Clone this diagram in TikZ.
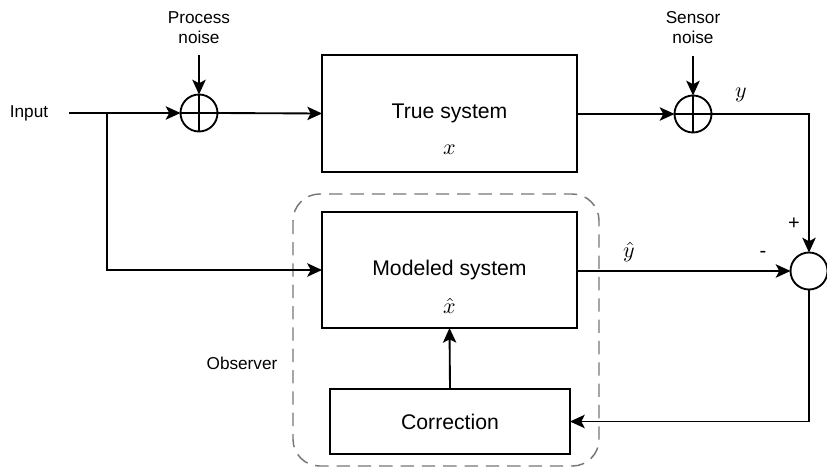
\RequirePackage{fix-cm}
\documentclass[tikz,border=0pt]{standalone}
\usepackage{fontspec}
\setmainfont{Liberation Sans}
\usetikzlibrary{arrows.meta}
\definecolor{dashgray}{HTML}{777777}
\newcommand{\mlab}[1]{\scalebox{1.65}{$#1$}}
\begin{document}
\begin{tikzpicture}[x=0.75pt,y=-0.75pt,
  line width=1.4pt,
  arr/.style={-{Stealth[length=11pt,width=10pt,inset=2.5pt]}},
  blk/.style={draw,rectangle,inner sep=0pt,outer sep=0pt},
  sumnode/.style={draw,circle,inner sep=0pt,outer sep=0pt,minimum size=27.75pt},
  small/.style={font=\fontsize{12.9}{15}\selectfont,align=center,inner sep=0pt},
  big/.style={font=\fontsize{15.9}{19}\selectfont,inner sep=0pt},
  mlbl/.style={inner sep=0pt}]
\useasboundingbox (0,0) rectangle (827,468);

% observer frame
\draw[dashgray,line width=1.1pt,dash pattern=on 10pt off 6pt,rounded corners=20pt]
  (293,194) rectangle (599,466);
\node[small] (obs) at (242,363) {Observer};

% blocks
\node[blk,minimum width=191.25pt,minimum height=87.75pt] (true) at (449.5,113.5) {};
\node[blk,minimum width=191.25pt,minimum height=87pt] (model) at (449.5,270) {};
\node[blk,minimum width=180pt,minimum height=48.75pt] (corr) at (450,421.5) {};
\node[big] (truet) at (449.5,113) {True system};
\node[mlbl] (truex) at (449.5,150) {\mlab{x}};
\node[mlbl] (modelx) at (449.5,306) {\mlab{\hat{x}}};
\node[big] (modelt) at (449.5,270) {Modeled system};
\node[big] (corrt) at (450,421.5) {Correction};

% summing junctions
\node[sumnode] (s1) at (199,113) {};
\draw (s1.north) -- (s1.south) (s1.west) -- (s1.east);
\node[sumnode] (s2) at (693,114) {};
\draw (s2.north) -- (s2.south) (s2.west) -- (s2.east);
\node[sumnode] (d) at (809,271) {};

% texts
\node[small] (in) at (29,113) {Input};
\node[small] (pn) at (199,28) {Process\\noise};
\node[small] (sn) at (693,28) {Sensor\\noise};
\node[mlbl] (ylbl) at (741,95) {\mlab{y}};
\node[mlbl] (yhlbl) at (629,252) {\mlab{\hat{y}}};
\node[small,font=\fontsize{15}{18}\selectfont] (plus) at (794,224) {+};
\node[small,font=\fontsize{15}{18}\selectfont] (minus) at (763,254) {-};

% coordinates
\coordinate (inS) at (69,113);
\coordinate (br) at (107,113);
\coordinate (pnS) at (199,55);
\coordinate (snS) at (693,56);

% connectors
\draw[arr] (inS) -- (s1.west);
\draw[arr] (br) |- (model.west);
\draw[arr] (pnS) -- (s1.north);
\draw[arr] (s1.east) -- (true.west);
\draw[arr] (true.east |- s2.west) -- (s2.west);
\draw[arr] (snS) -- (s2.north);
\draw[arr] (s2.east) -| (d.north);
\draw[arr] (model.east |- d.west) -- (d.west);
\draw[arr] (d.south) |- (corr.east);
\draw[arr] (corr.north) -- (model.south);
\end{tikzpicture}
\end{document}
